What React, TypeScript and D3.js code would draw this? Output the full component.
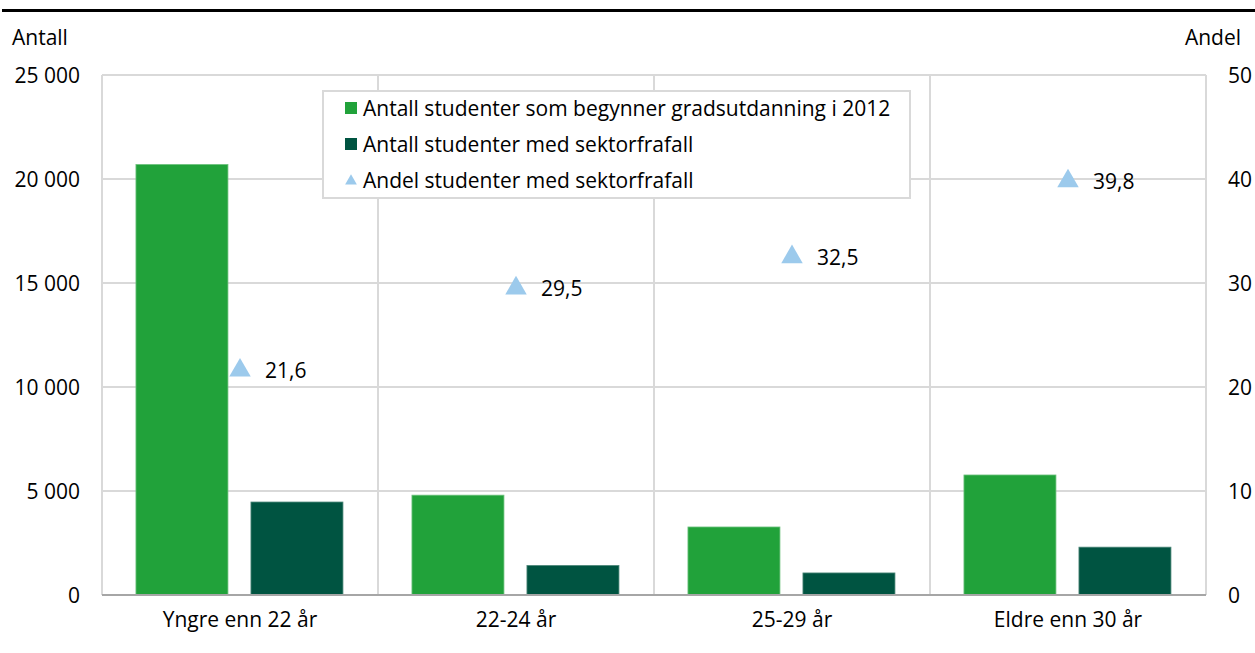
import { useEffect, useRef } from 'react'
import * as d3 from 'd3'

const categories = ['Yngre enn 22 år', '22-24 år', '25-29 år', 'Eldre enn 30 år']
const starters = [20700, 4800, 3270, 5770]
const dropouts = [4470, 1420, 1060, 2300]
const shares = [21.6, 29.5, 32.5, 39.8]
const leftTicks = [0, 5000, 10000, 15000, 20000, 25000]
const rightTicks = [0, 10, 20, 30, 40, 50]
const legendLabels = [
  'Antall studenter som begynner gradsutdanning i 2012',
  'Antall studenter med sektorfrafall',
  'Andel studenter med sektorfrafall',
]

const GREEN = '#21a23a'
const DARK = '#005441'
const BLUE = '#9ccaec'
const GRID = '#d9d9d9'
const FONT = "'Open Sans', sans-serif"
const FS = 21

export default function App() {
  const svgRef = useRef<SVGSVGElement>(null)
  const width = 1255
  const height = 653

  useEffect(() => {
    if (!svgRef.current) return
    const svg = d3.select(svgRef.current)
    svg.selectAll('*').remove()

    const margin = { top: 75, right: 49, bottom: 58, left: 102 }
    const innerW = width - margin.left - margin.right
    const innerH = height - margin.top - margin.bottom

    const x0 = d3.scaleBand().domain(categories).range([0, innerW])
    const bw = x0.bandwidth()
    const x1 = d3.scaleBand().domain(['a', 'b']).range([bw * 0.123, bw * 0.873]).paddingInner(0.2)
    const yL = d3.scaleLinear().domain([0, 25000]).range([innerH, 0])
    const yR = d3.scaleLinear().domain([0, 50]).range([innerH, 0])
    const fmt = (v: number) => d3.format(',')(v).replace(/,/g, ' ')

    // title rule
    svg.append('rect').attr('x', 2).attr('y', 9).attr('width', width - 2).attr('height', 3).attr('fill', '#000')

    const g = svg.append('g').attr('transform', `translate(${margin.left},${margin.top})`)

    // horizontal gridlines
    g.selectAll('.hgrid')
      .data(leftTicks.slice(1))
      .enter()
      .append('line')
      .attr('x1', 0)
      .attr('x2', innerW)
      .attr('y1', d => yL(d))
      .attr('y2', d => yL(d))
      .attr('stroke', GRID)
      .attr('stroke-width', 2)

    // vertical separators and frame
    const bounds = categories.map(c => x0(c)!).concat([innerW])
    g.selectAll('.vgrid')
      .data(bounds)
      .enter()
      .append('line')
      .attr('x1', d => d)
      .attr('x2', d => d)
      .attr('y1', 0)
      .attr('y2', innerH)
      .attr('stroke', GRID)
      .attr('stroke-width', 2)

    // bars
    const groups = g.selectAll('.cat')
      .data(categories)
      .enter()
      .append('g')
      .attr('transform', d => `translate(${x0(d)},0)`)

    groups.append('rect')
      .attr('x', x1('a')!)
      .attr('y', (_, i) => yL(starters[i]))
      .attr('width', x1.bandwidth())
      .attr('height', (_, i) => innerH - yL(starters[i]))
      .attr('fill', GREEN)
      .attr('stroke', '#6fc27f')
      .attr('stroke-width', 0.8)

    groups.append('rect')
      .attr('x', x1('b')!)
      .attr('y', (_, i) => yL(dropouts[i]))
      .attr('width', x1.bandwidth())
      .attr('height', (_, i) => innerH - yL(dropouts[i]))
      .attr('fill', DARK)
      .attr('stroke', '#4d8779')
      .attr('stroke-width', 0.8)

    // bottom axis line
    g.append('line')
      .attr('x1', 0).attr('x2', innerW)
      .attr('y1', innerH).attr('y2', innerH)
      .attr('stroke', '#a6a6a6').attr('stroke-width', 2)

    // triangles
    const tri = d3.symbol().type(d3.symbolTriangle).size(200)
    groups.append('path')
      .attr('d', tri)
      .attr('transform', (_, i) => `translate(${bw / 2},${yR(shares[i])})`)
      .attr('fill', BLUE)

    groups.append('text')
      .attr('x', bw / 2 + 25)
      .attr('y', (_, i) => yR(shares[i]))
      .attr('dy', '0.36em')
      .attr('font-family', FONT)
      .attr('font-size', FS)
      .attr('fill', '#000')
      .text((_, i) => shares[i].toFixed(1).replace('.', ','))

    // category labels
    groups.append('text')
      .attr('x', bw / 2)
      .attr('y', innerH + 24)
      .attr('dy', '0.36em')
      .attr('text-anchor', 'middle')
      .attr('font-family', FONT)
      .attr('font-size', FS)
      .attr('fill', '#000')
      .text(d => d)

    // left ticks
    g.selectAll('.lt')
      .data(leftTicks)
      .enter()
      .append('text')
      .attr('x', -22)
      .attr('y', d => yL(d))
      .attr('dy', '0.36em')
      .attr('text-anchor', 'end')
      .attr('font-family', FONT)
      .attr('font-size', FS)
      .attr('fill', '#000')
      .text(d => fmt(d))

    // right ticks
    g.selectAll('.rt')
      .data(rightTicks)
      .enter()
      .append('text')
      .attr('x', innerW + 22)
      .attr('y', d => yR(d))
      .attr('dy', '0.36em')
      .attr('font-family', FONT)
      .attr('font-size', FS)
      .attr('fill', '#000')
      .text(d => d)

    // axis titles
    svg.append('text')
      .attr('x', 12).attr('y', 37).attr('dy', '0.36em')
      .attr('font-family', FONT).attr('font-size', FS).attr('fill', '#000')
      .text('Antall')
    svg.append('text')
      .attr('x', 1241).attr('y', 37).attr('dy', '0.36em')
      .attr('text-anchor', 'end')
      .attr('font-family', FONT).attr('font-size', FS).attr('fill', '#000')
      .text('Andel')

    // legend
    const lg = svg.append('g').attr('transform', 'translate(323,91)')
    lg.append('rect')
      .attr('width', 587).attr('height', 107)
      .attr('fill', '#fff').attr('stroke', GRID).attr('stroke-width', 2)
    const rows = lg.selectAll('.row')
      .data(legendLabels)
      .enter()
      .append('g')
      .attr('transform', (_, i) => `translate(22,${17 + i * 36})`)
    rows.each(function (_, i) {
      const r = d3.select(this)
      if (i < 2) {
        r.append('rect').attr('x', 0).attr('y', -6).attr('width', 12).attr('height', 12)
          .attr('fill', i === 0 ? GREEN : DARK)
      } else {
        r.append('path').attr('d', d3.symbol().type(d3.symbolTriangle).size(60)())
          .attr('transform', 'translate(6,1)').attr('fill', BLUE)
      }
    })
    rows.append('text')
      .attr('x', 18)
      .attr('dy', '0.36em')
      .attr('font-family', FONT)
      .attr('font-size', FS)
      .attr('fill', '#000')
      .text(d => d)
  }, [])

  return (
    <svg
      ref={svgRef}
      width={width}
      height={height}
      style={{ position: 'absolute', left: 0, top: 0, background: '#fff' }}
    />
  )
}
